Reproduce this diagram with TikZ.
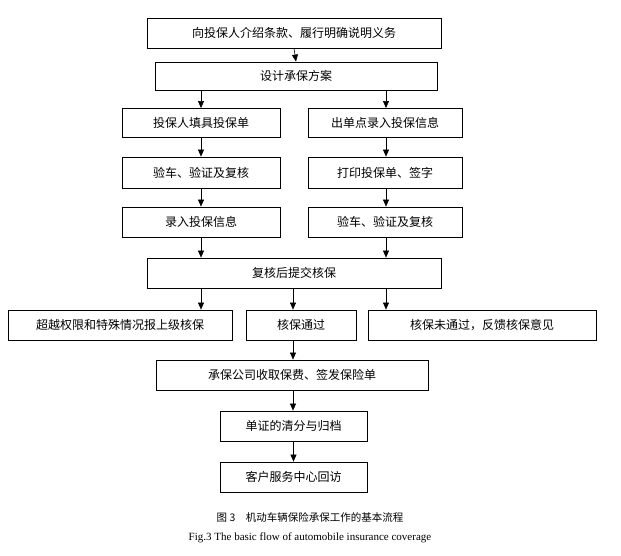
\documentclass[tikz,border=0pt]{standalone}
\usepackage{fontspec}
\setmainfont{Liberation Serif}
\newfontfamily\cjk{Noto Sans CJK SC}
\usetikzlibrary{arrows.meta}
\begin{document}
\begin{tikzpicture}[x=1pt,y=-1pt,
  bx/.style={draw,line width=0.8pt,inner sep=0pt,font=\cjk\fontsize{12}{14}\selectfont},
  ar/.style={-{Triangle[length=7pt,width=6pt]},line width=0.6pt}]
\useasboundingbox (0,0) rectangle (621,555);
\newcommand\bxat[6]{\node[bx,minimum width=#3-#2,minimum height=#5-#4] (#1) at ({(#2+#3)/2},{(#4+#5)/2}) {#6};}
\bxat{a}{147}{441}{18}{48}{向投保人介绍条款、履行明确说明义务}
\bxat{b}{155}{437}{62}{90}{设计承保方案}
\bxat{c}{122}{280}{108}{137}{投保人填具投保单}
\bxat{d}{308}{462}{108}{137}{出单点录入投保信息}
\bxat{e}{122}{280}{157}{188}{验车、验证及复核}
\bxat{f}{308}{462}{157}{188}{打印投保单、签字}
\bxat{g}{122}{280}{207}{237}{录入投保信息}
\bxat{h}{308}{462}{207}{237}{验车、验证及复核}
\bxat{i}{147}{441}{258}{288}{复核后提交核保}
\bxat{j}{8}{232}{310}{340}{超越权限和特殊情况报上级核保}
\bxat{k}{246}{356}{310}{340}{核保通过}
\bxat{l}{368}{596}{310}{340}{核保未通过，反馈核保意见}
\bxat{m}{156}{428}{360}{390}{承保公司收取保费、签发保险单}
\bxat{n}{220}{367}{411}{441}{单证的清分与归档}
\bxat{o}{220}{367}{462}{492}{客户服务中心回访}
\draw[ar] (a.south) -- (b.north);
\draw[ar] (201,90) -- (201,108);
\draw[ar] (386,90) -- (386,108);
\draw[ar] (c.south-|201,0) -- (e.north-|201,0);
\draw[ar] (e.south-|201,0) -- (g.north-|201,0);
\draw[ar] (d.south-|386,0) -- (f.north-|386,0);
\draw[ar] (f.south-|386,0) -- (h.north-|386,0);
\draw[ar] (g.south-|201,0) -- (i.north-|201,0);
\draw[ar] (h.south-|386,0) -- (i.north-|386,0);
\draw[ar] (i.south-|201,0) -- (j.north-|201,0);
\draw[ar] (i.south-|293,0) -- (k.north-|293,0);
\draw[ar] (i.south-|386,0) -- (l.north-|386,0);
\draw[ar] (k.south-|293,0) -- (m.north-|293,0);
\draw[ar] (m.south-|293,0) -- (n.north-|293,0);
\draw[ar] (n.south) -- (o.north);
\node[font=\cjk\fontsize{10.5}{12}\selectfont] (cap1) at (310,517) {图 3\quad 机动车辆保险承保工作的基本流程};
\node[font=\fontsize{11}{12}\selectfont] (cap2) at (310,538) {Fig.3 The basic flow of automobile insurance coverage};
\end{tikzpicture}
\end{document}
